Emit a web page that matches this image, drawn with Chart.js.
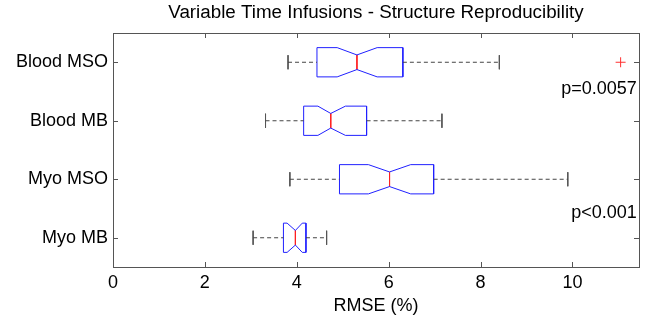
<!DOCTYPE html>
<html>
<head>
<meta charset="utf-8">
<script src="https://cdn.jsdelivr.net/npm/chart.js@4"></script>
<style>
    html, body { margin: 0; padding: 0; background: #fff; }
    #wrap { width: 652px; height: 323px; }
</style>
</head>
<body>
<div id="wrap"><canvas id="boxChart"></canvas></div>
<script>
// categories top to bottom
const categories = ['Blood MSO', 'Blood MB', 'Myo MSO', 'Myo MB'];

// box statistics (RMSE %)
const whiskerLow  = [3.81, 3.32, 3.85, 3.05];
const q1          = [4.44, 4.15, 4.93, 3.71];
const notchLow    = [4.88, 4.46, 5.56, 3.79];
const median      = [5.31, 4.74, 6.02, 3.97];
const notchHigh   = [5.75, 5.06, 6.48, 4.12];
const q3          = [6.31, 5.52, 6.98, 4.20];
const whiskerHigh = [8.41, 7.16, 9.90, 4.65];

// outliers: value and category index
const outlierValues = [11.05];
const outlierCategory = [0];

const xTicks = [0, 2, 4, 6, 8, 10];

// p-value annotations
const pLabels = ['p=0.0057', 'p<0.001'];
const pLabelX = [11.4, 11.4];
const pLabelY = [1.46, 3.57];

const chartTitle = 'Variable Time Infusions - Structure Reproducibility';

Chart.defaults.font.family = "'Liberation Sans', Arial, sans-serif";
Chart.defaults.color = '#000';

const BOX_HALF = 0.25;
const NOTCH_HALF = 0.125;
const CAP_HALF = 0.12;

const datasets = [];
const lineSet = (points, color, dash) => ({
    data: points,
    showLine: true,
    borderColor: color,
    borderWidth: 1,
    borderDash: dash || [],
    pointRadius: 0,
    fill: false
});

categories.forEach((cat, i) => {
    const y = i + 1;
    // dashed whiskers
    datasets.push(lineSet([{ x: whiskerLow[i], y }, { x: q1[i], y }], '#444', [4, 3]));
    datasets.push(lineSet([{ x: q3[i], y }, { x: whiskerHigh[i], y }], '#444', [4, 3]));
    // whisker caps
    datasets.push(lineSet([{ x: whiskerLow[i], y: y - CAP_HALF }, { x: whiskerLow[i], y: y + CAP_HALF }], '#555'));
    datasets.push(lineSet([{ x: whiskerHigh[i], y: y - CAP_HALF }, { x: whiskerHigh[i], y: y + CAP_HALF }], '#555'));
    // notched box outline
    datasets.push(lineSet([
        { x: q1[i], y: y - BOX_HALF },
        { x: notchLow[i], y: y - BOX_HALF },
        { x: median[i], y: y - NOTCH_HALF },
        { x: notchHigh[i], y: y - BOX_HALF },
        { x: q3[i], y: y - BOX_HALF },
        { x: q3[i], y: y + BOX_HALF },
        { x: notchHigh[i], y: y + BOX_HALF },
        { x: median[i], y: y + NOTCH_HALF },
        { x: notchLow[i], y: y + BOX_HALF },
        { x: q1[i], y: y + BOX_HALF },
        { x: q1[i], y: y - BOX_HALF }
    ], '#2020ff'));
    // median
    datasets.push(lineSet([{ x: median[i], y: y - NOTCH_HALF }, { x: median[i], y: y + NOTCH_HALF }], '#ff2020'));
});

datasets.push({
    data: outlierValues.map((v, k) => ({ x: v, y: outlierCategory[k] + 1 })),
    pointStyle: 'cross',
    pointRadius: 5,
    borderColor: '#ff3030',
    borderWidth: 1,
    showLine: false
});

// axes frame with inward ticks on all four sides, title and p-values
const framePlugin = {
    id: 'frame',
    afterDatasetsDraw(chart) {
        const { ctx, chartArea: a, scales } = chart;
        const len = 5;
        ctx.save();
        ctx.strokeStyle = '#555';
        ctx.lineWidth = 1;
        ctx.strokeRect(Math.round(a.left) + 0.5, Math.round(a.top) + 0.5,
            Math.round(a.right - a.left), Math.round(a.bottom - a.top));
        ctx.beginPath();
        xTicks.forEach(v => {
            const px = Math.round(scales.x.getPixelForValue(v)) + 0.5;
            ctx.moveTo(px, a.top); ctx.lineTo(px, a.top + len);
            ctx.moveTo(px, a.bottom); ctx.lineTo(px, a.bottom - len);
        });
        categories.forEach((c, i) => {
            const py = Math.round(scales.y.getPixelForValue(i + 1)) + 0.5;
            ctx.moveTo(a.left, py); ctx.lineTo(a.left + len, py);
            ctx.moveTo(a.right, py); ctx.lineTo(a.right - len, py);
        });
        ctx.stroke();

        ctx.fillStyle = '#000';
        ctx.textBaseline = 'middle';

        // title centred over the plot area
        ctx.font = "18.8px 'Liberation Sans', Arial, sans-serif";
        ctx.textAlign = 'center';
        ctx.fillText(chartTitle, (a.left + a.right) / 2, a.top - 20);

        // p-values
        ctx.font = "18px 'Liberation Sans', Arial, sans-serif";
        ctx.textAlign = 'right';
        pLabels.forEach((t, k) => {
            ctx.fillText(t, scales.x.getPixelForValue(pLabelX[k]), scales.y.getPixelForValue(pLabelY[k]));
        });
        ctx.restore();
    }
};

new Chart(document.getElementById('boxChart'), {
    type: 'scatter',
    data: { datasets },
    options: {
        responsive: true,
        maintainAspectRatio: false,
        animation: false,
        layout: { padding: { left: 0, right: 13, top: 33, bottom: 0 } },
        plugins: {
            legend: { display: false },
            tooltip: { enabled: false },
            title: { display: false }
        },
        scales: {
            x: {
                type: 'linear',
                min: 0,
                max: 11.45,
                afterBuildTicks: s => { s.ticks = xTicks.map(v => ({ value: v })); },
                afterFit: s => { s.height = 56; },
                grid: { display: false, drawTicks: false },
                border: { display: false },
                ticks: { font: { size: 18 }, color: '#000', padding: 5, maxRotation: 0 },
                title: {
                    display: true,
                    text: 'RMSE (%)',
                    font: { size: 18 },
                    color: '#000',
                    padding: { top: 0, bottom: 6 }
                }
            },
            y: {
                type: 'linear',
                min: 0.5,
                max: 4.5,
                reverse: true,
                afterBuildTicks: s => { s.ticks = categories.map((c, i) => ({ value: i + 1 })); },
                afterFit: s => { s.width = 113; },
                grid: { display: false, drawTicks: false },
                border: { display: false },
                ticks: {
                    font: { size: 18 },
                    color: '#000',
                    padding: 5,
                    callback: v => categories[v - 1]
                }
            }
        }
    },
    plugins: [framePlugin]
});
</script>
</body>
</html>
